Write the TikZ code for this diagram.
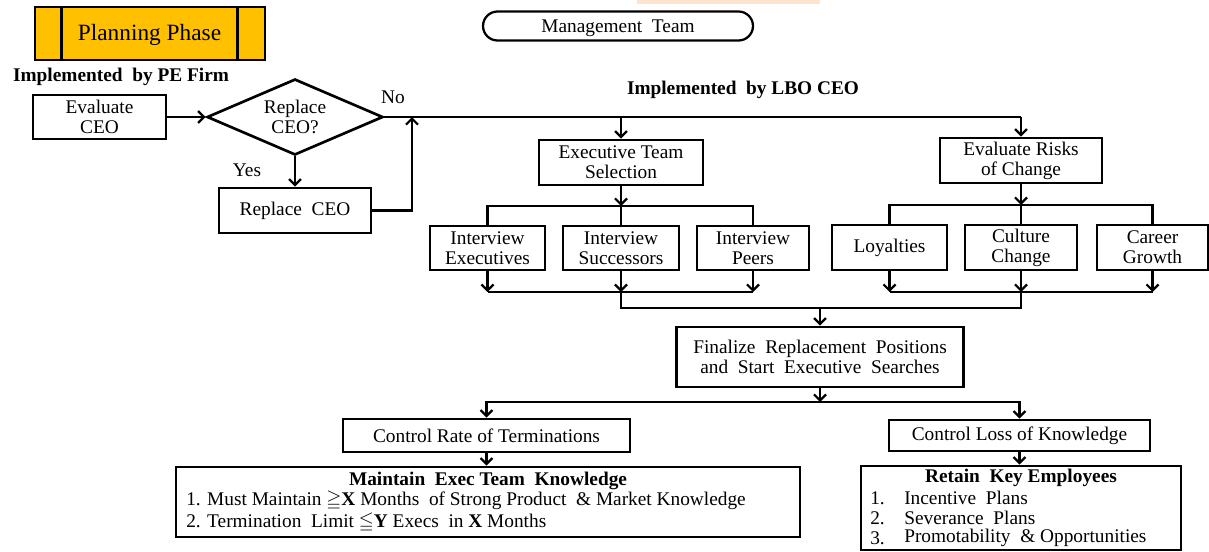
\documentclass[tikz,border=0pt]{standalone}
\usepackage{amssymb}
\usepackage{fontspec}
\setmainfont{LiberationSerif}[Extension=.ttf,UprightFont=*-Regular,BoldFont=*-Bold,ItalicFont=*-Italic,BoldItalicFont=*-BoldItalic]
\usetikzlibrary{shapes.geometric,arrows.meta,calc}
\definecolor{planorange}{HTML}{FFC000}
\definecolor{peach}{HTML}{FDE4D0}
\begin{document}
\begin{tikzpicture}[x=0.75pt,y=-0.75pt,
  font=\rmfamily\fontsize{14.5}{15}\selectfont,
  bx/.style 2 args={draw,line width=2pt,minimum width=#1*0.75pt,minimum height=#2*0.75pt,inner sep=0pt,align=center},
  txt/.style={inner sep=0pt},
  ln/.style={line width=1.7pt},
  arr/.style={line width=1.7pt,-{Straight Barb[length=4.5pt,width=9pt]}}]
\fill[white] (0,0) rectangle (1209,551);
\useasboundingbox (0,0) rectangle (1209,551);
\fill[peach] (637,0) rectangle (820,4);

% top-left
\node[bx={230}{53},fill=planorange] (plan) at (150,33.5) {};
\draw[line width=2pt] ($(plan.north west)+(28,0)$) -- ($(plan.south west)+(28,0)$);
\draw[line width=2pt] ($(plan.north east)+(-29,0)$) -- ($(plan.south east)+(-29,0)$);
\node[txt] (plantext) at (149.5,35) {\fontsize{17.5}{18}\selectfont Planning Phase};
\node[txt,font=\rmfamily\fontsize{14.5}{15}\selectfont\bfseries] (pe) at (121,77) {Implemented\ \ by PE Firm};

\node[bx={270}{29},line width=1.7pt,rounded corners=10.9pt] (mgmt) at (618,26) {\raisebox{-2pt}[\height][\depth]{Management\ \ Team}};
\node[txt,font=\rmfamily\fontsize{14.5}{15}\selectfont\bfseries] (lbo) at (743,90) {Implemented\ \ by LBO CEO};

\node[bx={133}{44}] (eval) at (99.5,117) {Evaluate\\CEO};
\node[draw,line width=2pt,diamond,aspect=2.3,minimum width=132pt,minimum height=57pt,inner sep=0pt,align=center] (dia) at (295,117) {Replace\\CEO?};
\node[bx={152}{45}] (repl) at (295,210.5) {Replace\ \ CEO};
\node[txt] (no) at (393,97) {No};
\node[txt] (yes) at (247,170) {Yes};

\coordinate (jn) at (412,117);
\coordinate (je) at (621,117);
\coordinate (jr) at (1021,117);
\draw[arr] (eval.east) -- (dia.west);
\draw[arr] (dia.south) -- (repl.north);
\draw[arr] (repl.east) -| (jn);
\draw[ln] (dia.east) -- (jr);

% executive team branch
\node[bx={164}{45}] (ets) at (621,162.5) {Executive Team\\Selection};
\node[bx={115}{44}] (ie) at (487.5,248) {Interview\\Executives};
\node[bx={116}{44}] (is) at (621,248) {Interview\\Successors};
\node[bx={112}{44}] (ip) at (753,248) {Interview\\Peers};
\draw[arr] (je) -- (ets.north);
\coordinate (eb) at (621,206);
\draw[arr] (ets.south) -- (eb);
\draw[ln] (ie.north) |- (eb) -| (ip.north);
\draw[ln] (eb) -- (is.north);
\coordinate (eb2) at (621,292);
\draw[arr] (ie.south) -- (ie.south |- eb2);
\draw[arr] (is.south) -- (eb2);
\draw[arr] (ip.south) -- (ip.south |- eb2);
\draw[ln] (ie.south |- eb2) -- (ip.south |- eb2);

% risk branch
\node[bx={162}{45}] (risk) at (1021,160.5) {Evaluate Risks\\of Change};
\node[bx={115}{45}] (loy) at (889.5,247.5) {Loyalties};
\node[bx={112}{45}] (cul) at (1021,247.5) {Culture\\Change};
\node[bx={111}{45}] (car) at (1152.5,247.5) {Career\\Growth};
\draw[arr] (jr) -- (risk.north);
\coordinate (rb) at (1021,205);
\draw[arr] (risk.south) -- (rb);
\draw[ln] (loy.north) |- (rb) -| (car.north);
\draw[ln] (rb) -- (cul.north);
\coordinate (rb2) at (1021,292);
\draw[arr] (loy.south) -- (loy.south |- rb2);
\draw[arr] (cul.south) -- (rb2);
\draw[arr] (car.south) -- (car.south |- rb2);
\draw[ln] (loy.south |- rb2) -- (car.south |- rb2);

% merge
\node[bx={287}{60}] (fin) at (820,357) {Finalize\ \ Replacement\ \ Positions\\and\ \ Start\ \ Executive\ \ Searches};
\coordinate (mm) at (820,308);
\draw[ln] (eb2) |- (mm);
\draw[ln] (rb2) |- (mm);
\draw[arr] (mm) -- (fin.north);

\node[bx={287}{33}] (crt) at (486.5,435.5) {Control Rate of Terminations};
\node[bx={261}{31}] (ckl) at (1019.5,435.5) {Control Loss of Knowledge};
\coordinate (fb) at (820,402);
\draw[arr] (fb) -| (crt.north);
\draw[arr] (fb) -| (ckl.north);
\draw[arr] (fin.south) -- (fb);

% bottom boxes
\node[bx={624}{70}] (mk) at (488,502) {};
\node[bx={320}{84}] (rk) at (1021,508) {};
\draw[arr] (crt.south) -- (crt.south |- mk.north);
\draw[arr] (ckl.south) -- (ckl.south |- rk.north);

\node[txt,font=\rmfamily\fontsize{14.5}{15}\selectfont\bfseries] (mkt) at (488,481) {Maintain\ \ Exec Team\ \ Knowledge};
\node[txt,anchor=west] (mk1) at (186,501) {1. Must Maintain $\geqq$\textbf{X} Months\ \ of Strong Product\ \ \& Market Knowledge};
\node[txt,anchor=west] (mk2) at (186,523) {2. Termination\ \ Limit $\leqq$\textbf{Y} Execs\ \ in \textbf{X} Months};

\node[txt,font=\rmfamily\fontsize{14.5}{15}\selectfont\bfseries] (rkt) at (1021,478) {Retain\ \ Key Employees};
\node[txt,anchor=west] (rn1) at (870,498) {1.};
\node[txt,anchor=west] (rn2) at (870,518) {2.};
\node[txt,anchor=west] (rn3) at (870,538) {3.};
\node[txt,anchor=west] (r1) at (904,498) {Incentive\ \ Plans};
\node[txt,anchor=west] (r2) at (904,518) {Severance\ \ Plans};
\node[txt,anchor=west] (r3) at (904,538) {Promotability\ \ \& Opportunities};
\end{tikzpicture}
\end{document}
